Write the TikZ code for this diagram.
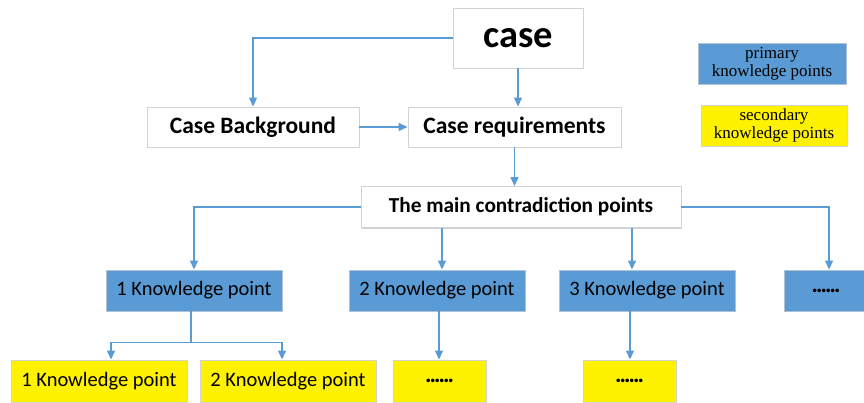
\documentclass[tikz,border=0pt]{standalone}
\usepackage{fontspec}
\setmainfont{Carlito}
\newfontfamily\legfont{Liberation Serif}
\newfontfamily\dotfont[LetterSpace=-8]{Carlito}
\usetikzlibrary{arrows.meta,shadows,calc}
\definecolor{lineblue}{HTML}{5B9BD5}
\definecolor{boxblue}{HTML}{5B9BD5}
\definecolor{edgegray}{HTML}{D3D3D3}
\tikzset{
  shad/.style={drop shadow={shadow xshift=1.2pt,shadow yshift=-1.2pt,opacity=0.18,fill=black}},
  whitebox/.style={draw=edgegray,line width=0.9pt,fill=white,shad,inner sep=0pt,font=\bfseries\fontsize{23.5}{26}\selectfont},
  bluebox/.style={draw=edgegray!70!boxblue,line width=0.9pt,fill=boxblue,shad,inner sep=0pt,font=\fontsize{20.5}{23}\selectfont},
  yelbox/.style={draw=edgegray,line width=0.9pt,fill=yellow,shad,inner sep=0pt,font=\fontsize{20.5}{23}\selectfont},
  dots/.style={font=\dotfont\bfseries\fontsize{24}{24}\selectfont},
  legtext/.style={align=center,inner sep=0pt,font=\legfont\fontsize{17}{18}\selectfont},
  conn/.style={draw=lineblue,line width=1.3pt},
  arr/.style={conn,-{Triangle[width=8pt,length=9pt]}},
}
\begin{document}
\begin{tikzpicture}[x=1pt,y=-1pt]
\useasboundingbox (0,0) rectangle (864,403);
% top
\node[whitebox,minimum width=130pt,minimum height=60pt,font=\bfseries\fontsize{38.5}{40}\selectfont] (case) at (518,38) {case};
\node[whitebox,minimum width=212pt,minimum height=40pt] (bg) at (253,127) {Case Background};
\node[whitebox,minimum width=213pt,minimum height=40pt] (req) at (514.5,127) {Case requirements};
\node[whitebox,minimum width=320pt,minimum height=41pt,font=\bfseries\fontsize{21.3}{24}\selectfont] (main) at (521,207) {The main contradiction points};
% primary
\node[bluebox,minimum width=176pt,minimum height=41pt] (k1) at (194,290.5) {1 Knowledge point};
\node[bluebox,minimum width=176pt,minimum height=41pt] (k2) at (437,290.5) {2 Knowledge point};
\node[bluebox,minimum width=176pt,minimum height=41pt] (k3) at (647,290.5) {3 Knowledge point};
\node[bluebox,dots,minimum width=84pt,minimum height=41pt] (k4) at (826,290.5) {......};
% secondary
\node[yelbox,minimum width=176pt,minimum height=42pt] (y1) at (99,381) {1 Knowledge point};
\node[yelbox,minimum width=176pt,minimum height=42pt] (y2) at (288,381) {2 Knowledge point};
\node[yelbox,dots,minimum width=93pt,minimum height=42pt] (y3) at (439.5,381) {......};
\node[yelbox,dots,minimum width=93pt,minimum height=42pt] (y4) at (629.5,381) {......};
% legend
\node[draw=edgegray!70!boxblue,line width=0.9pt,fill=boxblue,shad,minimum width=148pt,minimum height=41pt] (lp) at (772,63.5) {};
\node[legtext] at (lp) {primary\\knowledge points};
\node[draw=edgegray,line width=0.9pt,fill=yellow,shad,minimum width=146pt,minimum height=41pt] (ls) at (774,125.5) {};
\node[legtext] at (ls) {secondary\\knowledge points};
% connectors
\draw[arr] (case.west) -| (bg.north);
\draw[arr] (case.south) -- (case.south |- req.north);
\draw[arr] (bg.east) -- (req.west);
\draw[arr] (req.south) -- (req.south |- main.north);
\draw[arr] (main.west) -| (k1.north);
\draw[arr] ([xshift=5pt]k2.north |- main.south) -- ([xshift=5pt]k2.north);
\draw[arr] ([xshift=-15pt]k3.north |- main.south) -- ([xshift=-15pt]k3.north);
\draw[arr] (main.east) -| ([xshift=3pt]k4.north);
\coordinate (split) at ($(k1.south)+(-3,31)$);
\draw[conn] ([xshift=-3pt]k1.south) -- (split);
\draw[arr] (split) -| ([xshift=12pt]y1.north);
\draw[arr] (split) -| ([xshift=-6pt]y2.north);
\draw[arr] ([xshift=2pt]k2.south) -- ([xshift=2pt]k2.south |- y3.north);
\draw[arr] ([xshift=-17pt]k3.south) -- ([xshift=-17pt]k3.south |- y4.north);
\end{tikzpicture}
\end{document}
